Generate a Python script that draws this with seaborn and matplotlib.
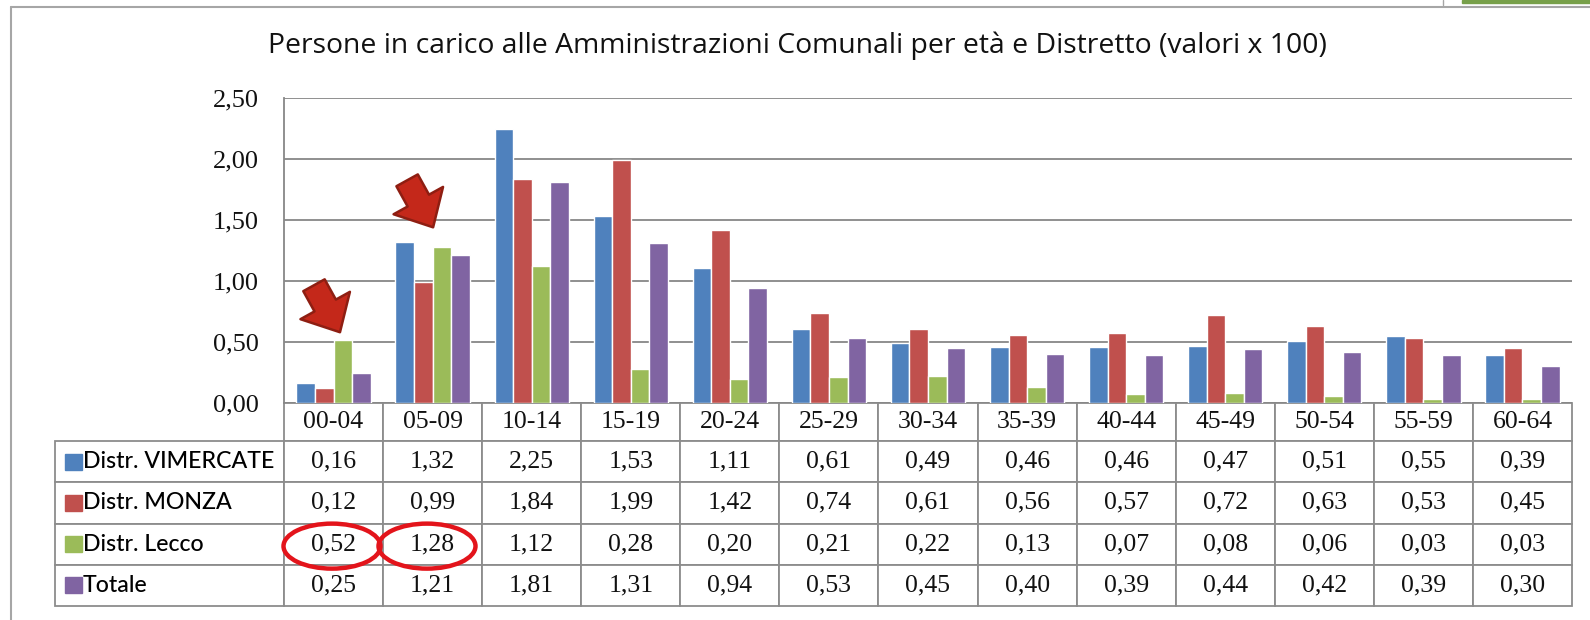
import numpy as np
import pandas as pd
import matplotlib
matplotlib.use("Agg")
import matplotlib.pyplot as plt
from matplotlib.patches import Rectangle, Ellipse
from matplotlib.lines import Line2D
from matplotlib.ticker import FuncFormatter
import seaborn as sns

# dati
eta = ['00-04', '05-09', '10-14', '15-19', '20-24', '25-29', '30-34',
       '35-39', '40-44', '45-49', '50-54', '55-59', '60-64']
serie = ['Distr. VIMERCATE', 'Distr. MONZA', 'Distr. Lecco', 'Totale']
vimercate = [0.16, 1.32, 2.25, 1.53, 1.11, 0.61, 0.49, 0.46, 0.46, 0.47, 0.51, 0.55, 0.39]
monza = [0.12, 0.99, 1.84, 1.99, 1.42, 0.74, 0.61, 0.56, 0.57, 0.72, 0.63, 0.53, 0.45]
lecco = [0.52, 1.28, 1.12, 0.28, 0.20, 0.21, 0.22, 0.13, 0.07, 0.08, 0.06, 0.03, 0.03]
totale = [0.25, 1.21, 1.81, 1.31, 0.94, 0.53, 0.45, 0.40, 0.39, 0.44, 0.42, 0.39, 0.30]
colori = ['#4F81BD', '#C0504D', '#9BBB59', '#8064A2']

valori = [vimercate, monza, lecco, totale]
df = pd.DataFrame({'eta': eta, serie[0]: vimercate, serie[1]: monza,
                   serie[2]: lecco, serie[3]: totale})
df = df.melt(id_vars='eta', var_name='serie', value_name='valore')

sns.set_style('white')
W, H = 1590, 620
fig = plt.figure(figsize=(W / 100, H / 100), dpi=100)

L, R, T, B = 284, 1572, 98, 403
ax = fig.add_axes([L / W, 1 - B / H, (R - L) / W, (B - T) / H])

sns.barplot(data=df, x='eta', y='valore', hue='serie', palette=colori,
            width=0.75, saturation=1, legend=False, ax=ax)

ax.set_ylim(0, 2.5)
ax.set_xlim(-0.5, len(eta) - 0.5)
ax.set_yticks(np.arange(0, 2.51, 0.5))
ax.yaxis.set_major_formatter(FuncFormatter(lambda v, p: f'{v:.2f}'.replace('.', ',')))
ax.tick_params(axis='y', length=0, pad=18, labelsize=19, labelcolor='#111111')
for t in ax.get_yticklabels():
    t.set_fontfamily('Liberation Serif')
ax.set_xticks([])
ax.set_xlabel('')
ax.set_ylabel('')
ax.grid(axis='y', color='#878787', lw=1.3)
ax.set_axisbelow(True)
for s in ['top', 'right', 'bottom']:
    ax.spines[s].set_visible(False)
ax.spines['left'].set_color('#878787')
ax.spines['left'].set_linewidth(1.3)

# tabella dati sotto il grafico
celle = [[serie[i]] + [f'{v:.2f}'.replace('.', ',') for v in valori[i]] for i in range(4)]
x0 = (55 - L) / (R - L)
bottom_px = 606
tab = ax.table(cellText=celle, colLabels=[''] + eta,
               colWidths=[229] + [(R - L) / len(eta)] * len(eta),
               cellLoc='center',
               bbox=[x0, (B - bottom_px) / (B - T), 1 - x0, (bottom_px - B) / (B - T)])
tab.auto_set_font_size(False)
h_head, h_row = 38, (bottom_px - B - 38) / 4
for (r, c), cell in tab.get_celld().items():
    cell.set_edgecolor('#8c8c8c')
    cell.set_linewidth(1.3)
    cell.set_height(h_head if r == 0 else h_row)
    if r == 0 and c == 0:
        cell.visible_edges = ''
    elif c == 0:
        cell.get_text().set_ha('left')
        cell.PAD = 28 / 229
        cell.set_text_props(fontfamily='Lato', fontsize=16.7, fontweight='medium',
                            color='#000000')
    else:
        cell.set_text_props(fontfamily='Liberation Serif', fontsize=18.5, color='#111111')

# quadratini della legenda
y_top = B + h_head
for i, col in enumerate(colori):
    yc = y_top + h_row * (i + 0.5)
    fig.add_artist(Rectangle((65 / W, 1 - (yc + 8) / H), 17 / W, 16 / H,
                             transform=fig.transFigure, color=col))

# titolo
fig.text(797 / W, 1 - 46 / H,
         'Persone in carico alle Amministrazioni Comunali per età e Distretto (valori x 100)',
         ha='center', va='center', fontsize=20.4, fontfamily='Open Sans',
         fontweight='medium', color='#111111')

# frecce rosse
freccia = dict(arrowstyle='simple,head_width=1.85,head_length=1.0,tail_width=0.8',
               fc='#C4281A', ec='#8E1E12', lw=1.8, mutation_scale=22,
               shrinkA=0, shrinkB=0)
ax.annotate('', xy=(0.065, 0.58), xytext=(-26, 47), textcoords='offset pixels',
            arrowprops=freccia)
ax.annotate('', xy=(1.005, 1.44), xytext=(-26, 47), textcoords='offset pixels',
            arrowprops=freccia)

# cerchi rossi sulla tabella
yc = y_top + h_row * 2.5 + 2
for xc in [332, 427]:
    fig.add_artist(Ellipse((xc / W, 1 - yc / H), 97 / W, 45 / H,
                           transform=fig.transFigure, fill=False,
                           ec='#E3141B', lw=3.2))

# cornice
fig.add_artist(Line2D([11 / W, 11 / W], [0, 1 - 7 / H], color='#a6a6a6', lw=1.5))
fig.add_artist(Line2D([11 / W, 1], [1 - 7 / H, 1 - 7 / H], color='#a6a6a6', lw=1.5))
fig.add_artist(Rectangle((1462 / W, 1 - 3 / H), 128 / W, 3 / H,
                         transform=fig.transFigure, color='#77A04A'))
fig.add_artist(Line2D([1443 / W, 1443 / W], [1 - 5 / H, 1], color='#a6a6a6', lw=1))

fig.savefig('out.png', dpi=100, facecolor='white')
